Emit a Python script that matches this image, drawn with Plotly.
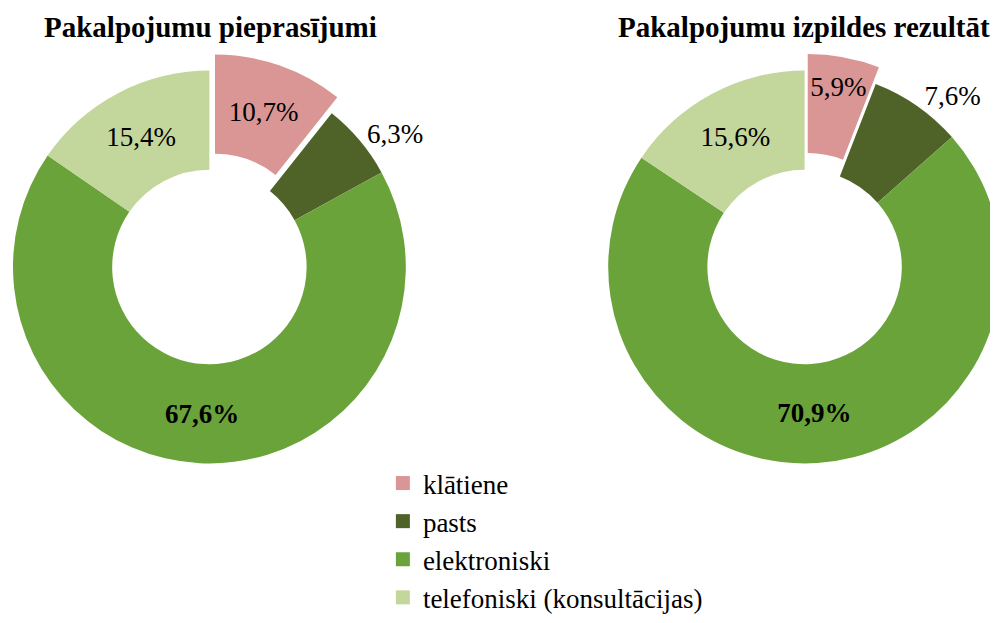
import math
import plotly.graph_objects as go

# ---- data ----
categories = ["klātiene", "pasts", "elektroniski", "telefoniski (konsultācijas)"]
requests_values = [10.7, 6.3, 67.6, 15.4]
results_values = [5.9, 7.6, 70.9, 15.6]
titles = ["Pakalpojumu pieprasījumi", "Pakalpojumu izpildes rezultāti"]
colors = ["#D99694", "#4F6228", "#6AA33A", "#C3D69B"]

# ---- layout constants (pixels, figure coordinates) ----
W, H = 998, 623
FONT = "Liberation Serif"
HOLE = 0.495
R = 197
PULL_PX = 17


def fmt(v):
    return f"{v:.1f}%".replace(".", ",")


def domain(cx, cy, r):
    return dict(x=[max(0.0, (cx - r) / W), min(1.0, (cx + r) / W)],
                y=[(H - cy - r) / H, (H - cy + r) / H])


fig = go.Figure()


def add_donut(values, cx, cy):
    texts, pos = [], []
    for i, v in enumerate(values):
        if i == 0:
            texts.append("")
            pos.append("none")
        elif i == 1:
            texts.append(fmt(v))
            pos.append("outside")
        elif i == 2:
            texts.append("<b>" + fmt(v) + "</b>")
            pos.append("inside")
        else:
            texts.append(fmt(v))
            pos.append("inside")
    fig.add_trace(go.Pie(
        labels=categories, values=values, sort=False, direction="clockwise",
        hole=HOLE, domain=domain(cx, cy, R),
        marker=dict(colors=["rgba(0,0,0,0)"] + colors[1:], line=dict(width=0)),
        text=texts, textinfo="text", textposition=pos,
        insidetextorientation="horizontal",
        textfont=dict(family=FONT, size=27, color="#000000"),
        showlegend=False, hoverinfo="label+percent"))
    # pulled-out first slice, shifted along its mid angle
    ang = math.pi * values[0] / sum(values)
    pdx = PULL_PX * math.sin(ang)
    pdy = -PULL_PX * math.cos(ang)
    fig.add_trace(go.Pie(
        labels=categories, values=values, sort=False, direction="clockwise",
        hole=HOLE, domain=domain(cx + pdx, cy + pdy, R),
        marker=dict(colors=[colors[0]] + ["rgba(0,0,0,0)"] * 3, line=dict(width=0)),
        text=[fmt(values[0]), "", "", ""], textinfo="text",
        textposition=["inside", "none", "none", "none"],
        insidetextorientation="horizontal",
        textfont=dict(family=FONT, size=27, color="#000000"),
        showlegend=False, hoverinfo="label+percent"))


add_donut(requests_values, 200, 259)
add_donut(results_values, 797, 259)

# legend entries
for name, c in zip(categories, colors):
    fig.add_trace(go.Scatter(x=[None], y=[None], mode="markers", name=name,
                             marker=dict(symbol="square", size=14, color=c)))

fig.add_annotation(text="<b>" + titles[0] + "</b>", x=201 / W, y=1 - 19 / H,
                   xref="paper", yref="paper", showarrow=False,
                   xanchor="center", yanchor="middle",
                   font=dict(family=FONT, size=29, color="#000000"))
fig.add_annotation(text="<b>" + titles[1] + "</b>", x=608 / W, y=1 - 19 / H,
                   xref="paper", yref="paper", showarrow=False,
                   xanchor="left", yanchor="middle",
                   font=dict(family=FONT, size=29, color="#000000"))

fig.update_layout(
    width=W, height=H,
    margin=dict(l=0, r=0, t=0, b=0),
    paper_bgcolor="white", plot_bgcolor="white",
    xaxis=dict(visible=False), yaxis=dict(visible=False),
    uniformtext=dict(mode="show", minsize=27),
    legend=dict(x=374 / W, y=1 - 451 / H, xanchor="left", yanchor="top",
                font=dict(family=FONT, size=27, color="#000000"),
                bgcolor="rgba(0,0,0,0)"),
    font=dict(family=FONT),
)

fig.write_html("out.html")
